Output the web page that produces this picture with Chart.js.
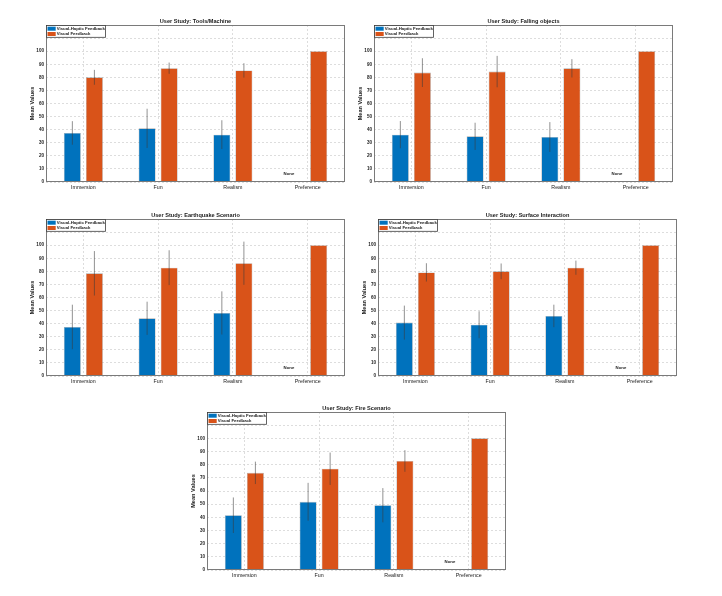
<!DOCTYPE html>
<html>
<head>
<meta charset="utf-8">
<script src="https://cdn.jsdelivr.net/npm/chart.js@4.4.0/dist/chart.umd.min.js"></script>
<style>
  html, body { margin: 0; padding: 0; background: #fff; }
  body { width: 722px; height: 596px; position: relative; overflow: hidden; }
  canvas { position: absolute; }
</style>
</head>
<body>
<script>
// data
const categories = ['Immersion', 'Fun', 'Realism', 'Preference'];
const seriesLabels = ['Visual-Haptic Feedback', 'Visual Feedback'];
const yTicks = [0, 10, 20, 30, 40, 50, 60, 70, 80, 90, 100];

const toolsHaptic = [37.5, 41.0, 36.2, 0];
const toolsHapticErr = [9, 15, 11, 0];
const toolsVisual = [80.0, 87.0, 85.3, 100];
const toolsVisualErr = [5.7, 4.3, 5.5, 0];

const fallingHaptic = [36.2, 34.9, 34.4, 0];
const fallingHapticErr = [10.4, 10.4, 11.4, 0];
const fallingVisual = [83.6, 84.4, 86.9, 100];
const fallingVisualErr = [11, 12, 7, 0];

const quakeHaptic = [37.5, 44.1, 48.2, 0];
const quakeHapticErr = [17, 12.7, 16.5, 0];
const quakeVisual = [78.5, 82.8, 86.2, 100];
const quakeVisualErr = [17, 13.3, 16.5, 0];

const surfaceHaptic = [40.8, 39.2, 45.9, 0];
const surfaceHapticErr = [13, 10.3, 8.6, 0];
const surfaceVisual = [79.2, 80.0, 82.8, 100];
const surfaceVisualErr = [7, 6, 5.4, 0];

const fireHaptic = [41.6, 51.8, 49.2, 0];
const fireHapticErr = [13.5, 14.4, 13, 0];
const fireVisual = [73.8, 76.9, 82.8, 100];
const fireVisualErr = [8.5, 12.3, 8.2, 0];

const noneLabel = 'None';
const noneLabelValue = 6.5;

const panels = [
    { title: 'User Study: Tools/Machine', h: toolsHaptic, he: toolsHapticErr, v: toolsVisual, ve: toolsVisualErr, box: [46, 25, 299, 157] },
    { title: 'User Study: Falling objects', h: fallingHaptic, he: fallingHapticErr, v: fallingVisual, ve: fallingVisualErr, box: [374, 25, 299, 157] },
    { title: 'User Study: Earthquake Scenario', h: quakeHaptic, he: quakeHapticErr, v: quakeVisual, ve: quakeVisualErr, box: [46, 219, 299, 157] },
    { title: 'User Study: Surface Interaction', h: surfaceHaptic, he: surfaceHapticErr, v: surfaceVisual, ve: surfaceVisualErr, box: [378, 219, 299, 157] },
    { title: 'User Study: Fire Scenario', h: fireHaptic, he: fireHapticErr, v: fireVisual, ve: fireVisualErr, box: [207, 412, 299, 158] },
];

const BLUE = '#0072BD';
const ORANGE = '#D95319';
const FONT = '"Liberation Sans", Arial, sans-serif';
const PAD_L = 40, PAD_T = 14, PAD_R = 6, PAD_B = 14;

function makePanel(p) {
    const [left, top, w, h] = p.box;
    const canvas = document.createElement('canvas');
    const cw = w + PAD_L + PAD_R;
    const ch = h + PAD_T + PAD_B;
    canvas.width = cw;
    canvas.height = ch;
    canvas.style.left = (left - PAD_L) + 'px';
    canvas.style.top = (top - PAD_T) + 'px';
    canvas.style.width = cw + 'px';
    canvas.style.height = ch + 'px';
    document.body.appendChild(canvas);

    // error bars, frame, title, legend and the "None" note
    const extras = {
        id: 'extras',
        afterDatasetsDraw(chart) {
            const ctx = chart.ctx;
            const y = chart.scales.y;
            ctx.save();
            ctx.strokeStyle = 'rgba(60,60,60,0.7)';
            ctx.lineWidth = 0.8;
            chart.data.datasets.forEach((ds, i) => {
                const meta = chart.getDatasetMeta(i);
                meta.data.forEach((bar, j) => {
                    const e = ds.errors[j];
                    if (!e) return;
                    const v = ds.data[j];
                    ctx.beginPath();
                    ctx.moveTo(bar.x, y.getPixelForValue(v + e));
                    ctx.lineTo(bar.x, y.getPixelForValue(v - e));
                    ctx.stroke();
                });
            });
            ctx.restore();
        },
        afterDraw(chart) {
            const ctx = chart.ctx;
            const a = chart.chartArea;
            const x = chart.scales.x;
            const y = chart.scales.y;
            ctx.save();

            // axes box
            ctx.strokeStyle = '#7a7a7a';
            ctx.lineWidth = 1;
            ctx.strokeRect(a.left + 0.5, a.top + 0.5, a.right - a.left - 1, a.bottom - a.top - 1);

            // title
            ctx.fillStyle = '#1a1a1a';
            ctx.font = 'bold 5.6px ' + FONT;
            ctx.textAlign = 'center';
            ctx.textBaseline = 'middle';
            ctx.fillText(p.title, (a.left + a.right) / 2, a.top - 3.8);

            // "None" note over the empty Preference slot
            const band = (a.right - a.left) / categories.length;
            ctx.font = 'bold 4.3px ' + FONT;
            ctx.fillText(noneLabel, x.getPixelForValue(3) - band * 0.25, y.getPixelForValue(noneLabelValue));

            // legend
            const lx = a.left + 0.5, ly = a.top + 0.5, lw = 59, lh = 11.8;
            ctx.fillStyle = '#fff';
            ctx.fillRect(lx, ly, lw, lh);
            ctx.strokeStyle = '#3c3c3c';
            ctx.lineWidth = 0.8;
            ctx.strokeRect(lx, ly, lw, lh);
            ctx.textAlign = 'left';
            chart.data.datasets.forEach((ds, i) => {
                const ry = ly + 3.2 + i * 5.3;
                ctx.fillStyle = ds.backgroundColor;
                ctx.fillRect(lx + 1, ry - 2, 8.2, 4);
                ctx.fillStyle = '#1a1a1a';
                ctx.fillText(ds.label, lx + 10.2, ry);
            });
            ctx.restore();
        },
    };

    new Chart(canvas, {
        type: 'bar',
        data: {
            labels: categories,
            datasets: [
                { label: seriesLabels[0], data: p.h, errors: p.he, backgroundColor: BLUE },
                { label: seriesLabels[1], data: p.v, errors: p.ve, backgroundColor: ORANGE },
            ],
        },
        options: {
            responsive: false,
            animation: false,
            devicePixelRatio: 1,
            layout: { padding: { left: 0, top: PAD_T, right: PAD_R, bottom: 0 } },
            categoryPercentage: 0.59,
            barPercentage: 0.77,
            borderWidth: 0.6,
            borderColor: 'rgba(110,110,110,0.6)',
            plugins: {
                legend: { display: false },
                title: { display: false },
                tooltip: { enabled: false },
            },
            scales: {
                x: {
                    offset: true,
                    grid: { offset: false, color: '#cfcfcf', lineWidth: 0.7, drawTicks: false },
                    border: { display: false, dash: [2, 2] },
                    ticks: { padding: 2, color: '#1a1a1a', font: { family: FONT, size: 5.3 } },
                    afterFit(scale) { scale.height = PAD_B; },
                },
                y: {
                    min: 0,
                    max: 120,
                    grid: { color: '#cfcfcf', lineWidth: 0.7, drawTicks: false },
                    border: { display: false, dash: [2, 2] },
                    ticks: {
                        stepSize: 10,
                        padding: 2,
                        color: '#1a1a1a',
                        font: { family: FONT, size: 4.6, weight: 'bold' },
                        callback: (val) => yTicks.includes(val) ? String(val) : '',
                    },
                    title: {
                        display: true,
                        text: 'Mean Values',
                        color: '#1a1a1a',
                        font: { family: FONT, size: 5.6, weight: 'bold' },
                        padding: { top: 23, bottom: 0 },
                    },
                    afterFit(scale) { scale.width = PAD_L; },
                },
            },
        },
        plugins: [extras],
    });
}

panels.forEach(makePanel);
</script>
</body>
</html>
